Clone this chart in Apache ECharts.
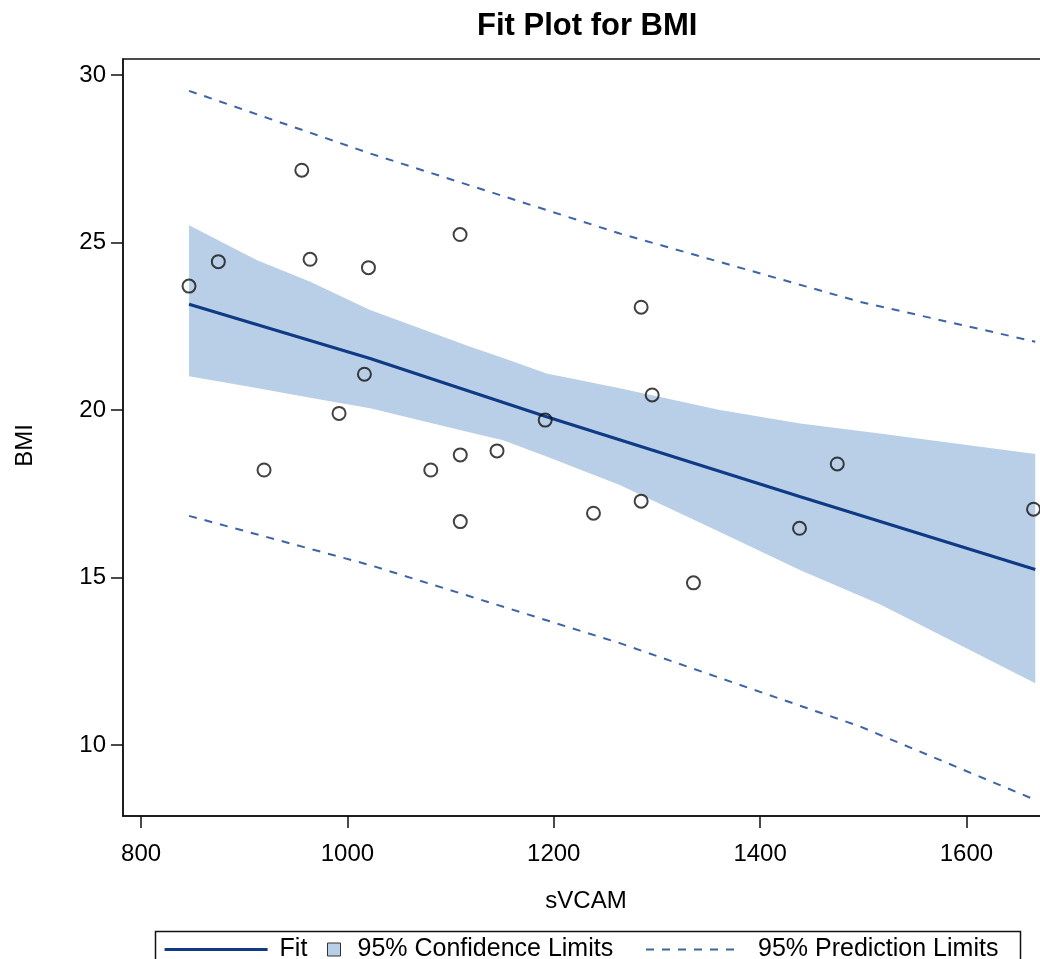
<!DOCTYPE html>
<html>
<head>
<meta charset="utf-8">
<title>Fit Plot for BMI</title>
<script src="https://cdn.jsdelivr.net/npm/echarts@6/dist/echarts.min.js"></script>
<style>
  html, body { margin: 0; padding: 0; background: #fff; }
  #fitPlot { width: 1040px; height: 959px; }
</style>
</head>
<body>
<div id="fitPlot"></div>
<script>
// observed data (sVCAM, BMI)
const pointX = [846.5, 874.9, 919.2, 955.8, 963.8, 991.9, 1016.5, 1020.4, 1080.8, 1109.2, 1109.4,
  1109.4, 1145.0, 1191.7, 1238.5, 1284.7, 1284.7, 1295.4, 1335.4, 1438.2, 1474.8, 1665.0];
const pointY = [23.70, 24.43, 18.21, 27.16, 24.50, 19.90, 21.07, 24.25, 18.21, 25.24, 18.66,
  16.67, 18.78, 19.70, 16.92, 23.07, 17.28, 20.45, 14.84, 16.47, 18.39, 17.04];

// fitted line
const fitX = [846.5, 1022, 1193, 1439, 1666.7];
const fitY = [23.16, 21.54, 19.80, 17.41, 15.24];

// 95% confidence band
const bandX = [846.5, 912, 964, 1022, 1119, 1151, 1193, 1264, 1361, 1439, 1516, 1666.7];
const bandUpper = [25.52, 24.48, 23.83, 22.99, 21.89, 21.55, 21.09, 20.65, 20.00, 19.60, 19.30, 18.69];
const bandLower = [21.01, 20.66, 20.37, 20.05, 19.33, 19.10, 18.61, 17.76, 16.36, 15.22, 14.20, 11.84];

// 95% prediction limits
const predX = [846.5, 1022, 1264, 1497, 1666.7];
const predUpper = [29.53, 27.66, 25.27, 23.23, 22.04];
const predLower = [16.84, 15.37, 13.04, 10.55, 8.36];

// tick labels
const xTicks = [800, 1000, 1200, 1400, 1600];
const yTicks = [10, 15, 20, 25, 30];

const font = "'Liberation Sans', Arial, sans-serif";
const fitColor = "#0f3a85";
const bandColor = "#b9cfe7";
const predColor = "#3e64a6";

const pairs = (xs, ys) => xs.map((x, i) => [x, ys[i]]);

function renderBand(params, api) {
  if (params.dataIndex !== 0) return;
  const pts = [];
  for (let i = 0; i < bandX.length; i++) pts.push(api.coord([bandX[i], bandUpper[i]]));
  for (let i = bandX.length - 1; i >= 0; i--) pts.push(api.coord([bandX[i], bandLower[i]]));
  return {
    type: "polygon",
    shape: { points: pts },
    style: { fill: bandColor },
  };
}

const chart = echarts.init(document.getElementById("fitPlot"));

const option = {
  animation: false,
  backgroundColor: "#fff",
  textStyle: { fontFamily: font },
  title: {
    text: "Fit Plot for BMI",
    left: 477,
    top: 11,
    padding: 0,
    textStyle: { fontSize: 31, fontWeight: "bold", color: "#000", fontFamily: font },
  },
  grid: {
    left: 123,
    top: 59,
    right: -9,
    bottom: 143,
    outerBoundsMode: "none",
    show: true,
    borderColor: "#111",
    borderWidth: 1.5,
  },
  xAxis: {
    type: "value",
    min: 782.5,
    max: 1680,
    name: "sVCAM",
    nameLocation: "middle",
    nameGap: 73,
    nameTextStyle: { fontSize: 24, color: "#000", fontFamily: font },
    axisLine: { show: true, lineStyle: { color: "#111", width: 1.5 } },
    axisTick: { show: true, length: 12, customValues: xTicks, lineStyle: { color: "#111", width: 1.5 } },
    axisLabel: {
      customValues: xTicks,
      formatter: (v) => String(v),
      fontSize: 24,
      color: "#000",
      margin: 26,
      fontFamily: font,
    },
    splitLine: { show: false },
  },
  yAxis: {
    type: "value",
    min: 7.88,
    max: 30.48,
    name: "BMI",
    nameLocation: "middle",
    nameGap: 86,
    nameTextStyle: { fontSize: 24, color: "#000", fontFamily: font, padding: [0, 16, 0, 0] },
    axisLine: { show: true, lineStyle: { color: "#111", width: 1.5 } },
    axisTick: { show: true, length: 12, customValues: yTicks, lineStyle: { color: "#111", width: 1.5 } },
    axisLabel: { customValues: yTicks, fontSize: 24, color: "#000", margin: 17, fontFamily: font },
    splitLine: { show: false },
  },
  legend: [
    {
      left: 163,
      top: 937,
      padding: 0,
      itemWidth: 103,
      itemHeight: 14,
      data: [{
        name: "Fit",
        itemStyle: { opacity: 0 },
        lineStyle: { color: fitColor, width: 3.2 },
      }],
      textStyle: { fontSize: 25, color: "#000", padding: [0, 0, 0, 7], fontFamily: font },
    },
    {
      left: 327,
      top: 937,
      padding: 0,
      itemWidth: 13,
      itemHeight: 13,
      data: [{
        name: "95% Confidence Limits",
        icon: "rect",
        itemStyle: { color: bandColor, borderColor: "#333", borderWidth: 1 },
      }],
      textStyle: { fontSize: 25, color: "#000", padding: [0, 0, 0, 12], fontFamily: font },
    },
    {
      left: 645,
      top: 937,
      padding: 0,
      itemWidth: 92,
      itemHeight: 14,
      data: [{
        name: "95% Prediction Limits",
        itemStyle: { opacity: 0 },
        lineStyle: { color: predColor, width: 2, type: [8, 8] },
      }],
      textStyle: { fontSize: 25, color: "#000", padding: [0, 0, 0, 15], fontFamily: font },
    },
  ],
  graphic: [
    {
      // frame round the legend
      type: "rect",
      left: 153,
      top: 929,
      shape: { width: 865, height: 40 },
      style: { fill: "none", stroke: "#111", lineWidth: 1.5 },
      silent: true,
    },
  ],
  series: [
    {
      name: "95% Confidence Limits",
      type: "custom",
      renderItem: renderBand,
      itemStyle: { color: bandColor },
      data: bandX.map((x, i) => [x, bandLower[i], bandUpper[i]]),
      encode: { x: 0, y: [1, 2] },
      z: 1,
    },
    {
      name: "95% Prediction Limits",
      type: "line",
      data: pairs(predX, predUpper),
      symbol: "none",
      lineStyle: { color: predColor, width: 2, type: [8, 8] },
      itemStyle: { color: predColor },
      z: 2,
    },
    {
      name: "95% Prediction Limits",
      type: "line",
      data: pairs(predX, predLower),
      symbol: "none",
      lineStyle: { color: predColor, width: 2, type: [8, 8] },
      itemStyle: { color: predColor },
      z: 2,
    },
    {
      name: "Fit",
      type: "line",
      data: pairs(fitX, fitY),
      symbol: "none",
      lineStyle: { color: fitColor, width: 3.2 },
      itemStyle: { color: fitColor },
      z: 3,
    },
    {
      name: "BMI",
      type: "scatter",
      data: pairs(pointX, pointY),
      symbol: "circle",
      symbolSize: 13,
      itemStyle: { color: "rgba(0,0,0,0)", borderColor: "#111", borderWidth: 2 },
      z: 4,
    },
  ],
};

chart.setOption(option);
</script>
</body>
</html>
